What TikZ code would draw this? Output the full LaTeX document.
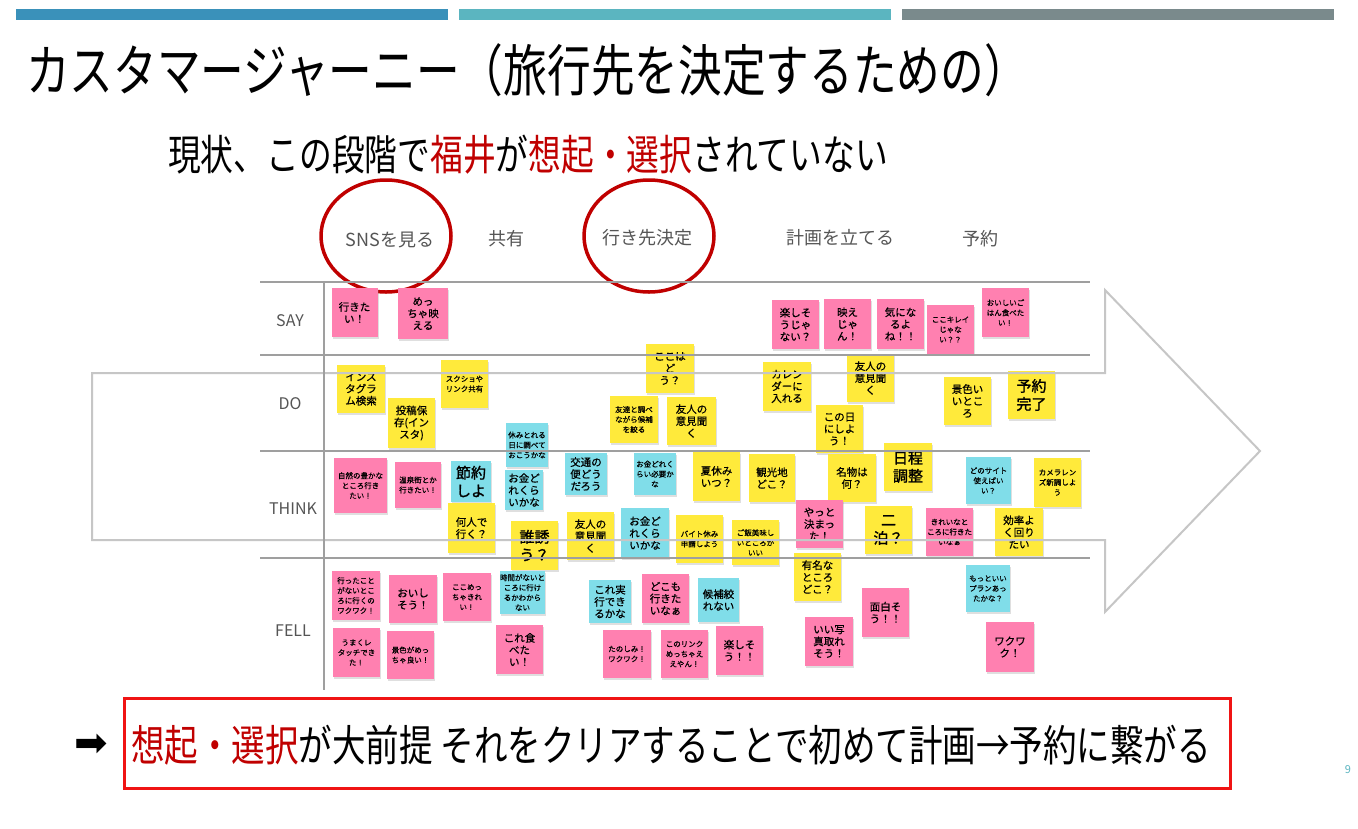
\documentclass[tikz,border=0pt]{standalone}
\usepackage{fontspec}
\usetikzlibrary{shadows,shapes.geometric}
\newfontfamily\jp{Noto Sans CJK JP}
\newfontfamily\jpm[FakeBold=0.6]{Noto Sans CJK JP}
\newfontfamily\jpc[FakeStretch=0.78]{Noto Sans CJK JP}
\newfontfamily\jpb[FakeBold=1.5]{Noto Sans CJK JP}
\newfontfamily\dejavu{DejaVu Sans}
\definecolor{barA}{RGB}{58,145,186}
\definecolor{barB}{RGB}{91,181,192}
\definecolor{barC}{RGB}{122,138,140}
\definecolor{darkred}{RGB}{192,0,0}
\definecolor{boxred}{RGB}{240,20,20}
\definecolor{lbl}{RGB}{85,85,85}
\definecolor{pk}{RGB}{255,128,176}
\definecolor{ye}{RGB}{255,234,59}
\definecolor{cy}{RGB}{128,221,233}
\newcommand\fN{\jpm\fontsize{10.5}{12}\selectfont}
\newcommand\fS{\jpm\fontsize{7.5}{10}\selectfont}
\newcommand\fL{\jpb\fontsize{15}{18}\selectfont}
\newcommand\sticky[8]{\node[stk,fill=#2,minimum width=#5pt,minimum height=#6pt,font=#7] (#1) at (#3,#4) {#8};}
\tikzset{
  stk/.style={inner sep=0pt, align=center, text=black,
    drop shadow={shadow xshift=1pt, shadow yshift=-1.5pt, opacity=0.25}},
  gridline/.style={draw=gray!75, line width=1.3pt},
  arrowline/.style={draw=gray!45, line width=2pt, line join=miter},
  hdr/.style={text=lbl, font=\jp\fontsize{18}{20}\selectfont},
  rowlbl/.style={text=lbl, font=\jp\fontsize{16}{18}\selectfont},
  ring/.style={draw=darkred, line width=3.5pt},
}
\begin{document}
\begin{tikzpicture}[x=1pt,y=-1pt]
\useasboundingbox (0,0) rectangle (1358,828);
\fill[white] (0,0) rectangle (1358,828);
% top bars
\fill[barA] (16,9) rectangle (448,20);
\fill[barB] (459,9) rectangle (891,20);
\fill[barC] (902,9) rectangle (1334,20);
% title
\node[anchor=west, inner sep=0pt, font=\jpc\fontsize{56}{62}\selectfont] (title) at (26,70) {カスタマージャーニー（旅行先を決定するための）};
\node[anchor=west, inner sep=0pt, font=\jpc\fontsize{42}{48}\selectfont] (sub) at (168,155) {現状、この段階で\textcolor{darkred}{福井}が\textcolor{darkred}{想起・選択}されていない};
% headers
\node[hdr] (h1) at (390,240) {SNSを見る};
\node[hdr] (h2) at (506,239) {共有};
\node[hdr] (h3) at (647,238) {行き先決定};
\node[hdr] (h4) at (840,238) {計画を立てる};
\node[hdr] (h5) at (980,239) {予約};
\node[ring, ellipse, minimum width=130pt, minimum height=112pt] (r1) at (386,236) {};
\node[ring, ellipse, minimum width=130pt, minimum height=112pt] (r2) at (649,236) {};
% row labels
\node[rowlbl] (say) at (290,321) {SAY};
\node[rowlbl] (do) at (290,404) {DO};
\node[rowlbl] (think) at (293,509) {THINK};
\node[rowlbl] (fell) at (293,631) {FELL};
% SAY
\sticky{n1}{pk}{354.5}{312.5}{46}{49}{\fN}{行きた\\い！}
\sticky{n2}{pk}{423}{313.5}{50}{51}{\fN}{めっ\\ちゃ映\\える}
\sticky{n3}{pk}{795.5}{324.5}{47}{49}{\fN}{楽しそ\\うじゃ\\ない？}
\sticky{n4}{pk}{847.5}{324}{47}{50}{\fN}{映え\\じゃ\\ん！}
\sticky{n5}{pk}{900.5}{324}{47}{50}{\fN}{気にな\\るよ\\ね！！}
\sticky{n6}{pk}{950.5}{329.5}{47}{49}{\fS}{ここキレイ\\じゃな\\い？？}
\sticky{n7}{pk}{1005.5}{312.5}{47}{49}{\fS}{おいしいご\\はん食べた\\い！}
% DO
\sticky{n8}{ye}{361}{389}{48}{48}{\fN}{インス\\タグラ\\ム検索}
\sticky{n9}{ye}{411.5}{423}{47}{50}{\fN}{投稿保\\存(イン\\スタ)}
\sticky{n10}{ye}{464.5}{384}{47}{48}{\fS}{スクショや\\リンク共有}
\sticky{n11}{cy}{527}{445}{42}{44}{\fS}{休みとれる\\日に調べて\\おこうかな}
\sticky{n12}{ye}{670}{368.5}{48}{49}{\fN}{ここは\\ど\\う？}
\sticky{n13}{ye}{634}{419.5}{48}{47}{\fS}{友達と調べ\\ながら候補\\を絞る}
\sticky{n14}{ye}{691.5}{421}{49}{48}{\fN}{友人の\\意見聞\\く}
\sticky{n15}{ye}{787}{386.5}{48}{49}{\fN}{カレン\\ダーに\\入れる}
\sticky{n16}{ye}{870.5}{378}{47}{48}{\fN}{友人の\\意見聞\\く}
\sticky{n17}{ye}{839.5}{429}{47}{48}{\fN}{この日\\にしよ\\う！}
\sticky{n18}{ye}{967.5}{401}{47}{48}{\fN}{景色い\\いとこ\\ろ}
\sticky{n19}{ye}{1031.5}{395}{47}{48}{\fL}{予約\\完了}
% THINK
\sticky{n20}{ye}{908}{467}{48}{48}{\fL}{日程\\調整}
\sticky{n21}{pk}{360.5}{485.5}{53}{55}{\fS}{自然の豊かな\\ところ行き\\たい！}
\sticky{n22}{pk}{418}{485}{46}{46}{\fS}{温泉街とか\\行きたい！}
\sticky{n23}{cy}{471}{481.5}{40}{41}{\fL}{節約\\しよ}
\sticky{n24}{cy}{524}{490}{38}{40}{\fN}{お金ど\\れくら\\いかな}
\sticky{n25}{ye}{471.5}{528}{47}{50}{\fN}{何人で\\行く？}
\sticky{n26}{ye}{534.5}{545.5}{47}{49}{\fL}{誰誘\\う？}
\sticky{n27}{cy}{586}{474}{42}{42}{\fN}{交通の\\便どう\\だろう}
\sticky{n28}{cy}{655}{474}{42}{42}{\fS}{お金どれく\\らい必要か\\な}
\sticky{n29}{ye}{716.5}{476.5}{47}{49}{\fN}{夏休み\\いつ？}
\sticky{n30}{ye}{772}{478}{46}{48}{\fN}{観光地\\どこ？}
\sticky{n31}{ye}{590.5}{536}{47}{48}{\fN}{友人の\\意見聞\\く}
\sticky{n32}{cy}{645}{533}{48}{50}{\fN}{お金ど\\れくら\\いかな}
\sticky{n33}{ye}{699.5}{539}{47}{48}{\fS}{バイト休み\\申請しよう}
\sticky{n34}{ye}{755.5}{542.5}{47}{45}{\fS}{ご飯美味し\\いところが\\いい}
\sticky{n35}{ye}{852}{478}{48}{48}{\fN}{名物は\\何？}
\sticky{n36}{pk}{819.5}{524}{47}{48}{\fN}{やっと\\決まっ\\た！}
\sticky{n37}{ye}{888.5}{530}{47}{48}{\fL}{二\\泊？}
\sticky{n38}{cy}{988.5}{480.5}{45}{47}{\fS}{どのサイト\\使えばい\\い？}
\sticky{n39}{ye}{1057.5}{482.5}{47}{49}{\fS}{カメラレン\\ズ新調しよ\\う}
\sticky{n40}{pk}{949.5}{532}{47}{48}{\fS}{きれいなと\\ころに行きた\\いなぁ}
\sticky{n41}{ye}{1019}{532}{48}{48}{\fN}{効率よ\\く回り\\たい}
% FELL
\sticky{n42}{ye}{817.5}{577}{47}{48}{\fN}{有名な\\ところ\\どこ？}
\sticky{n43}{pk}{356}{595.5}{48}{49}{\fS}{行ったこと\\がないとこ\\ろに行くの\\ワクワク！}
\sticky{n44}{pk}{413}{599}{48}{48}{\fN}{おいし\\そう！}
\sticky{n45}{pk}{467}{597}{48}{48}{\fS}{ここめっ\\ちゃきれ\\い！}
\sticky{n46}{cy}{522.5}{592.5}{41}{43}{\fS}{時間がないと\\ころに行け\\るかわから\\ない}
\sticky{n47}{pk}{356.5}{652.5}{47}{49}{\fS}{うまくレ\\タッチでき\\た！}
\sticky{n48}{pk}{410.5}{655}{47}{48}{\fS}{景色がめっ\\ちゃ良い！}
\sticky{n49}{pk}{519.5}{649.5}{47}{49}{\fN}{これ食\\べた\\い！}
\sticky{n50}{cy}{610}{601.5}{42}{43}{\fN}{これ実\\行でき\\るかな}
\sticky{n51}{pk}{665.5}{598.5}{47}{49}{\fN}{どこも\\行きた\\いなぁ}
\sticky{n52}{cy}{718.5}{600}{41}{44}{\fN}{候補絞\\れない}
\sticky{n53}{pk}{627}{654}{48}{48}{\fS}{たのしみ！\\ワクワク！}
\sticky{n54}{pk}{684.5}{654}{47}{48}{\fS}{このリンク\\めっちゃえ\\えやん！}
\sticky{n55}{pk}{739.5}{650.5}{47}{49}{\fN}{楽しそ\\う！！}
\sticky{n56}{pk}{885.5}{612.5}{47}{49}{\fN}{面白そ\\う！！}
\sticky{n57}{pk}{829}{641.5}{48}{49}{\fN}{いい写\\真取れ\\そう！}
\sticky{n58}{cy}{988}{588.5}{44}{47}{\fS}{もっといい\\プランあっ\\たかな？}
\sticky{n59}{pk}{1010}{647}{48}{50}{\fN}{ワクワ\\ク！}
% grid lines and big arrow (on top)
\draw[arrowline] (92,373) -- (1105,373) -- (1105,290) -- (1260,451) -- (1105,612) -- (1105,540) -- (92,540) -- cycle;
\draw[gridline] (260,282) -- (1090,282);
\draw[gridline] (260,355) -- (1090,355);
\draw[gridline] (260,451) -- (1090,451);
\draw[gridline] (260,558) -- (1090,558);
\draw[gridline] (324,282) -- (324,690);
% bottom message
\node[draw=boxred, line width=3pt, minimum width=1106pt, minimum height=90pt, inner sep=0pt] (box) at (677,743) {};
\node[anchor=west, inner sep=0pt, font=\jpc\fontsize{43}{48}\selectfont] (msg) at (131,745) {\textcolor{darkred}{想起・選択}が大前提 それをクリアすることで初めて計画→予約に繋がる};
\node[font=\dejavu\fontsize{40}{44}\selectfont, inner sep=0pt] (arr) at (91,745) {➡};
\node[text=barB, font=\jp\fontsize{11}{12}\selectfont] (pg) at (1348,770) {9};
\end{tikzpicture}
\end{document}
